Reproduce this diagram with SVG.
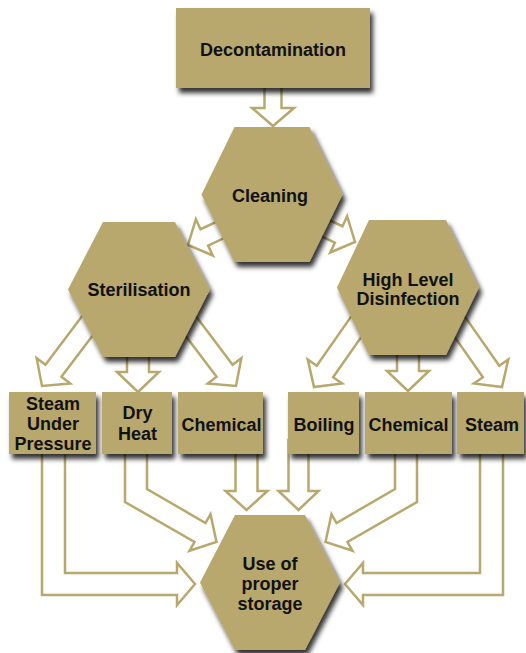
<svg xmlns="http://www.w3.org/2000/svg" width="526" height="653" viewBox="0 0 526 653">
<defs>
<filter id="sh" x="-20%" y="-20%" width="150%" height="150%">
<feDropShadow dx="3" dy="5" stdDeviation="2.5" flood-color="#000" flood-opacity="0.8"/>
</filter>
</defs>
<style>
.n{fill:#b8a86e;filter:url(#sh)}
.a{fill:#fff;stroke:#b8a86e;stroke-width:2.5;stroke-linejoin:miter}
.t{font-family:"Liberation Sans",Arial,sans-serif;font-weight:bold;font-size:18px;fill:#111;text-anchor:middle}
</style>
<rect width="526" height="653" fill="#fff"/>
<g id="connectors">
<polygon class="a" transform="translate(273,126) rotate(90)" points="-45,-8.5 -18,-8.5 -18,-21 0,0 -18,21 -18,8.5 -45,8.5"/>
<polygon class="a" transform="translate(188,245) rotate(155)" points="-45,-9 -18,-9 -18,-20 0,0 -18,20 -18,9 -45,9"/>
<polygon class="a" transform="translate(355,242) rotate(25)" points="-45,-9 -18,-9 -18,-20 0,0 -18,20 -18,9 -45,9"/>
<polygon class="a" transform="translate(42,386) rotate(127)" points="-85,-10 -19,-10 -19,-21 0,0 -19,21 -19,10 -85,10"/>
<polygon class="a" transform="translate(138,392) rotate(90)" points="-45,-11 -20,-11 -20,-21 0,0 -20,21 -20,11 -45,11"/>
<polygon class="a" transform="translate(236,386) rotate(53)" points="-85,-10 -19,-10 -19,-21 0,0 -19,21 -19,10 -85,10"/>
<polygon class="a" transform="translate(314,387) rotate(125)" points="-85,-10 -19,-10 -19,-21 0,0 -19,21 -19,10 -85,10"/>
<polygon class="a" transform="translate(408,391) rotate(90)" points="-45,-11 -20,-11 -20,-21 0,0 -20,21 -20,11 -45,11"/>
<polygon class="a" transform="translate(502,387) rotate(55)" points="-85,-10 -19,-10 -19,-21 0,0 -19,21 -19,10 -85,10"/>
<polygon class="a" points="42,440 42,595 177,595 177,605 195,584 177,563 177,573 65,573 65,440"/>
<polygon class="a" points="125,440 125,502 194.5,542 189.5,550.8 216.5,542 210.5,514.2 205.5,523 147,489 147,440"/>
<polygon class="a" points="235.5,440 235.5,491 225.5,491 246.5,510 267.5,491 257.5,491 257.5,440"/>
<polygon class="a" points="288.5,440 288.5,491 278.5,491 298.5,510 318.5,491 308.5,491 308.5,440"/>
<polygon class="a" points="417,440 417,502 347.5,542 352.5,550.8 325.5,542 331.5,514.2 336.5,523 395,489 395,440"/>
<polygon class="a" points="503,440 503,595 363,595 363,605 345,584 363,563 363,573 480,573 480,440"/>
</g>
<g id="decontamination">
<rect class="n" x="176" y="8" width="194" height="80"/>
<text class="t" x="273" y="56">Decontamination</text>
</g>
<g id="cleaning">
<polygon class="n" points="234.5,127 309.5,127 342.5,194.5 309.5,262 234.5,262 201.5,194.5"/>
<text class="t" x="270" y="201.5">Cleaning</text>
</g>
<g id="sterilisation">
<polygon class="n" points="103,222 175,222 210,289.5 175,357 103,357 68,289.5"/>
<text class="t" x="139" y="296">Sterilisation</text>
</g>
<g id="hld">
<polygon class="n" points="369,220 446,220 479,287.5 446,355 369,355 337,287.5"/>
<text class="t" x="408" y="286">High Level</text>
<text class="t" x="408" y="305">Disinfection</text>
</g>
<g id="steam-under-pressure">
<rect class="n" x="9" y="392" width="87" height="62"/>
<text class="t" x="53" y="410">Steam</text>
<text class="t" x="53" y="430">Under</text>
<text class="t" x="53" y="450">Pressure</text>
</g>
<g id="dry-heat">
<rect class="n" x="102" y="392" width="70" height="62"/>
<text class="t" x="137.5" y="419">Dry</text>
<text class="t" x="137.5" y="440">Heat</text>
</g>
<g id="chemical-steril">
<rect class="n" x="178" y="392" width="85" height="62"/>
<text class="t" x="221.5" y="430.5">Chemical</text>
</g>
<g id="boiling">
<rect class="n" x="288" y="392" width="71" height="62"/>
<text class="t" x="324" y="430.5">Boiling</text>
</g>
<g id="chemical-hld">
<rect class="n" x="365" y="392" width="87" height="62"/>
<text class="t" x="408.5" y="430.5">Chemical</text>
</g>
<g id="steam">
<rect class="n" x="457" y="392" width="67" height="62"/>
<text class="t" x="492" y="430.5">Steam</text>
</g>
<g id="storage">
<polygon class="n" points="235,515 305,515 340,582.5 305,650 235,650 200,582.5"/>
<text class="t" x="270" y="570">Use of</text>
<text class="t" x="270" y="590">proper</text>
<text class="t" x="270" y="610">storage</text>
</g>
</svg>
